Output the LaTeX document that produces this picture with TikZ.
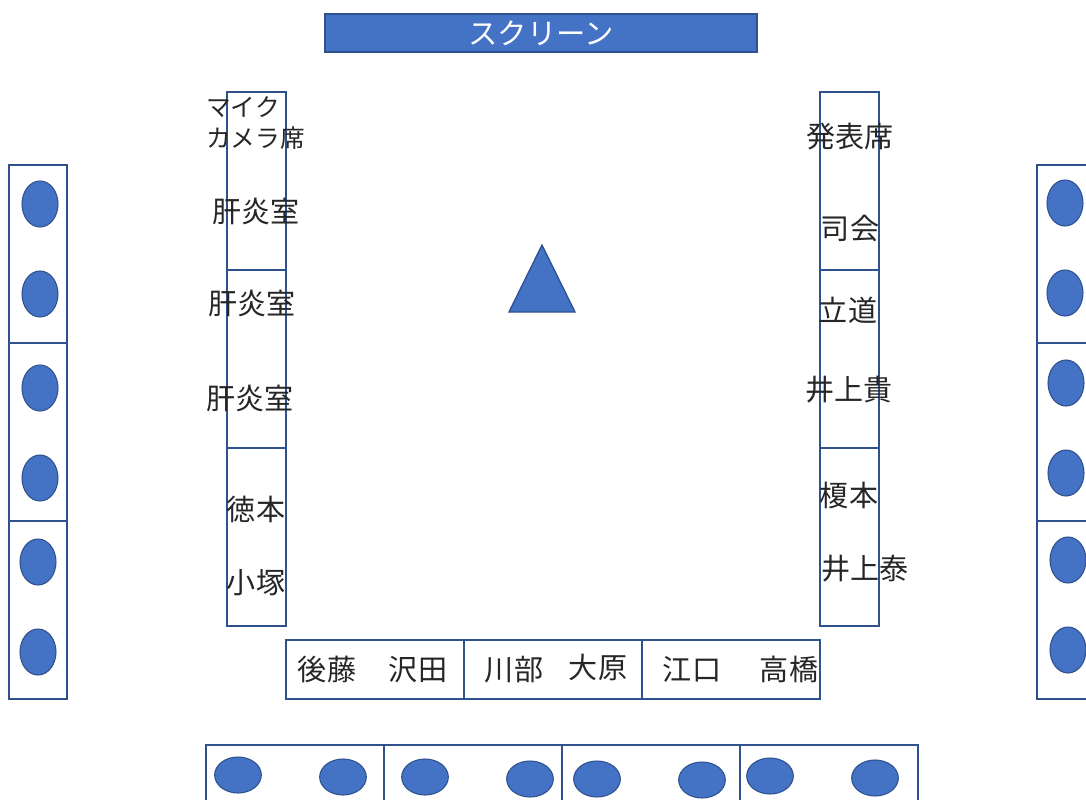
\documentclass[tikz,border=0pt]{standalone}
\usepackage{fontspec}
\setmainfont{Noto Sans CJK JP}
\usetikzlibrary{shapes.geometric}
\definecolor{fillblue}{HTML}{4472C4}
\definecolor{edgeblue}{HTML}{2F528F}
\tikzset{
  frame/.style={draw=edgeblue, line width=1.1pt},
  chairv/.style={ellipse, fill=fillblue, draw=edgeblue, line width=0.8pt, minimum width=27pt, minimum height=34.5pt, inner sep=0pt},
  chairh/.style={ellipse, fill=fillblue, draw=edgeblue, line width=0.8pt, minimum width=35pt, minimum height=27pt, inner sep=0pt},
  lbl/.style={inner sep=0pt, font=\fontsize{21.8}{24}\selectfont, text=black!85},
  small/.style={inner sep=0pt, font=\fontsize{18.5}{23}\selectfont, text=black!85, anchor=west},
}
\begin{document}
\begin{tikzpicture}[x=0.75pt, y=-0.75pt]
\useasboundingbox (0,0) rectangle (1086,800);
\clip (0,0) rectangle (1086,800);
% screen
\node[fill=fillblue, draw=edgeblue, line width=1.1pt, minimum width=324pt, minimum height=28.5pt, inner sep=0pt,
      text=white, font=\fontsize{22}{24}\selectfont] (screen) at (541,33) {スクリーン};
% left table column
\draw[frame] (227,92) rectangle (286,626);
\draw[frame] (227,270) -- (286,270);
\draw[frame] (227,448) -- (286,448);
% right table column
\draw[frame] (820,92) rectangle (879,626);
\draw[frame] (820,270) -- (879,270);
\draw[frame] (820,448) -- (879,448);
% bottom table
\draw[frame] (286,640) rectangle (820,699);
\draw[frame] (464,640) -- (464,699);
\draw[frame] (642,640) -- (642,699);
% left chairs
\draw[frame] (9,165) rectangle (67,699);
\draw[frame] (9,343) -- (67,343);
\draw[frame] (9,521) -- (67,521);
\node[chairv] (l1) at (40,204) {};
\node[chairv] (l2) at (40,294) {};
\node[chairv] (l3) at (40,388) {};
\node[chairv] (l4) at (40,478) {};
\node[chairv] (l5) at (38,562) {};
\node[chairv] (l6) at (38,652) {};
% right chairs
\draw[frame] (1092,165) -- (1037,165) -- (1037,699) -- (1092,699);
\draw[frame] (1037,343) -- (1092,343);
\draw[frame] (1037,521) -- (1092,521);
\node[chairv] (r1) at (1065,203) {};
\node[chairv] (r2) at (1065,293) {};
\node[chairv] (r3) at (1066,383) {};
\node[chairv] (r4) at (1066,473) {};
\node[chairv] (r5) at (1068,560) {};
\node[chairv] (r6) at (1068,650) {};
% bottom chairs
\draw[frame] (206,806) -- (206,745) -- (918,745) -- (918,806);
\draw[frame] (384,745) -- (384,806);
\draw[frame] (562,745) -- (562,806);
\draw[frame] (740,745) -- (740,806);
\node[chairh] (b1) at (238,775) {};
\node[chairh] (b2) at (343,777) {};
\node[chairh] (b3) at (425,777) {};
\node[chairh] (b4) at (530,779) {};
\node[chairh] (b5) at (597,779) {};
\node[chairh] (b6) at (702,780) {};
\node[chairh] (b7) at (770,776) {};
\node[chairh] (b8) at (875,778) {};
% triangle
\draw[fill=fillblue, draw=edgeblue, line width=1pt] (542,245) -- (575,312) -- (509,312) -- cycle;
% left labels
\node[small] (mic) at (206,107) {マイク};
\node[small] (cam) at (206,138) {カメラ席};
\node[lbl] (k1) at (256,211) {肝炎室};
\node[lbl] (k2) at (252,303) {肝炎室};
\node[lbl] (k3) at (250,398) {肝炎室};
\node[lbl] (toku) at (256,509) {徳本};
\node[lbl] (koz) at (256,583) {小塚};
% right labels
\node[lbl] (hap) at (850,137) {発表席};
\node[lbl] (shi) at (850,229) {司会};
\node[lbl] (tat) at (848,310) {立道};
\node[lbl] (itk) at (849,390) {井上貴};
\node[lbl] (eno) at (849,495) {榎本};
\node[lbl] (ity) at (865,569) {井上泰};
% bottom labels
\node[lbl] (got) at (327,669) {後藤};
\node[lbl] (saw) at (418,670) {沢田};
\node[lbl] (kaw) at (514,670) {川部};
\node[lbl] (oha) at (598,667) {大原};
\node[lbl] (egu) at (692,669) {江口};
\node[lbl] (tak) at (789,669) {高橋};
\end{tikzpicture}
\end{document}
